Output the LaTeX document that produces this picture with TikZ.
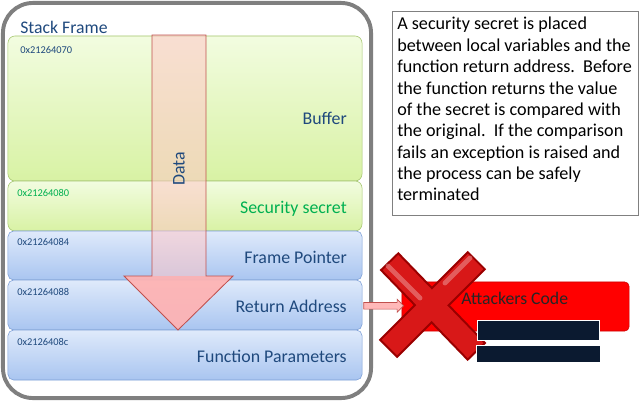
\documentclass[tikz,border=0pt]{standalone}
\usepackage{fontspec}
\setmainfont{Carlito}
\usepackage{tikz}
\usetikzlibrary{shapes.arrows}
\definecolor{stackblue}{HTML}{1F497D}
\definecolor{secgreen}{HTML}{00B050}
\definecolor{greentop}{HTML}{F2FCE0}
\definecolor{greenbot}{HTML}{D8F2A4}
\definecolor{greenedge}{HTML}{A3C46C}
\definecolor{bluetop}{HTML}{DFEAFB}
\definecolor{bluebot}{HTML}{A9C5F0}
\definecolor{blueedge}{HTML}{7C9ED6}
\definecolor{arrowedge}{HTML}{C0504D}
\definecolor{framegray}{HTML}{7F7F7F}
\definecolor{xdark}{HTML}{9A0000}
\definecolor{xred}{HTML}{D81818}
\definecolor{censor}{HTML}{0B1A30}
\tikzset{
	stackframe/.style={rectangle,draw=framegray,line width=2.8pt,rounded corners=0.75cm,inner sep=0pt},
	greenbox/.style={rectangle,draw=greenedge,top color=greentop,bottom color=greenbot,rounded corners=5pt,inner sep=0pt,minimum width=8.85cm},
	bluebox/.style={rectangle,draw=blueedge,top color=bluetop,bottom color=bluebot,rounded corners=4pt,inner sep=0pt,minimum width=8.85cm},
	addr/.style={font=\fontsize{7.4}{9}\selectfont,text=stackblue,inner sep=0pt,anchor=west},
	lbl/.style={font=\fontsize{12.7}{15}\selectfont,text=stackblue,inner sep=0pt,anchor=east},
	title/.style={font=\fontsize{12.6}{15}\selectfont,text=stackblue,inner sep=0pt,anchor=west},
	datashaft/.style={fill=red!22,fill opacity=0.55},
	datahead/.style={fill=red!30,fill opacity=0.92},
	dataedge/.style={draw=arrowedge,line width=0.6pt,line join=miter},
	sarrow/.style={single arrow,draw=arrowedge,fill=red!28,line width=0.5pt,inner xsep=0pt,inner ysep=0.075cm,
		minimum height=1cm,single arrow head extend=0.08cm},
	atkbox/.style={rectangle,draw=red!80!black,fill=red,rounded corners=3pt,inner sep=0pt,
		minimum width=5.675cm,minimum height=1.225cm},
	atklbl/.style={font=\fontsize{12.6}{15}\selectfont,text=black!85,inner sep=0pt,anchor=west},
	censorbar/.style={rectangle,fill=censor,draw=white,line width=1pt,inner sep=0pt},
	xedge/.style={draw=xdark,line width=18.5pt},
	xfill/.style={draw=xred,line width=15.5pt,shorten >=1.5pt,shorten <=1.5pt},
	xshine/.style={draw=white,line width=3.5pt,opacity=0.3,line cap=round},
	notebox/.style={rectangle,draw=gray,line width=0.9pt,inner sep=0pt,anchor=north west,
		minimum width=6.15cm,minimum height=5.1cm},
	notetext/.style={font=\fontsize{12.9}{15.2}\selectfont,align=left,inner sep=0pt,anchor=north west},
	>=stealth,
}
\begin{document}
\begin{tikzpicture}[x=0.025cm,y=-0.025cm]
\useasboundingbox (0,0) rectangle (640,403);
%FRAME
\node[stackframe,minimum width=9.2cm,minimum height=9.875cm] (frame) at (187,200.5) {};
\node[title] (frametitle) at (20,27) {Stack Frame};
%BOXES
\node[greenbox,minimum height=3.625cm] (buf) at (185,108.5) {};
\node[greenbox,minimum height=1.25cm] (sec) at (185,206) {};
\node[bluebox,minimum height=1.225cm] (fp) at (185,255.5) {};
\node[bluebox,minimum height=1.25cm] (ret) at (185,305) {};
\node[bluebox,minimum height=1.25cm] (par) at (185,355) {};
%ADDRESSES
\node[addr] (bufaddr) at (20,50) {0x21264070};
\node[addr,text=secgreen] (secaddr) at (17,193) {0x21264080};
\node[addr] (fpaddr) at (17,242) {0x21264084};
\node[addr] (retaddr) at (17,292) {0x21264088};
\node[addr] (paraddr) at (17,342) {0x2126408c};
%LABELS
\node[lbl] (buflbl) at (347,118) {Buffer};
\node[lbl,text=secgreen] (seclbl) at (347,209) {Security secret};
\node[lbl] (fplbl) at (347,257) {Frame Pointer};
\node[lbl] (retlbl) at (347,306) {Return Address};
\node[lbl] (parlbl) at (347,356) {Function Parameters};
%DATA ARROW
\fill[datashaft] (152,35) rectangle (206,276);
\fill[datahead] (124,276) -- (233,276) -- (178,330) -- cycle;
\draw[dataedge] (152,35) -- (206,35) -- (206,276) -- (233,276) -- (178,330) -- (124,276) -- (152,276) -- cycle;
\node[lbl,anchor=center,rotate=90] (data) at (179,169) {Data};
%ATTACKER
\node[atkbox] (atk) at (515.5,306.5) {};
\path (ret.east) -- (atk.west) node[midway,sarrow] (hit) {};
% RED X
\draw[xedge] (389,261) -- (477,352);
\draw[xedge] (477,260) -- (388,349);
\draw[xfill] (389,261) -- (477,352);
\draw[xfill] (477,260) -- (388,349);
\draw[xshine] (388,266) -- (420,298);
\draw[xshine] (470,258) -- (445,283);
\node[atklbl] (atktxt) at (461,298) {Attackers Code};
\node[censorbar,minimum width=3.05cm,minimum height=0.5cm] (bar1) at (538.5,330.5) {};
\node[censorbar,minimum width=3.1cm,minimum height=0.42cm] (bar2) at (538.5,354) {};
%NOTE
\node[notebox] (note) at (392,11) {};
\node[notetext] (notetxt) at (397,17) {A security secret is placed\\
between local variables and the\\
function return address.\ \ Before\\
the function returns the value\\
of the secret is compared with\\
the original.\ \ If the comparison\\
fails an exception is raised and\\
the process can be safely\\
terminated};
\end{tikzpicture}
\end{document}
